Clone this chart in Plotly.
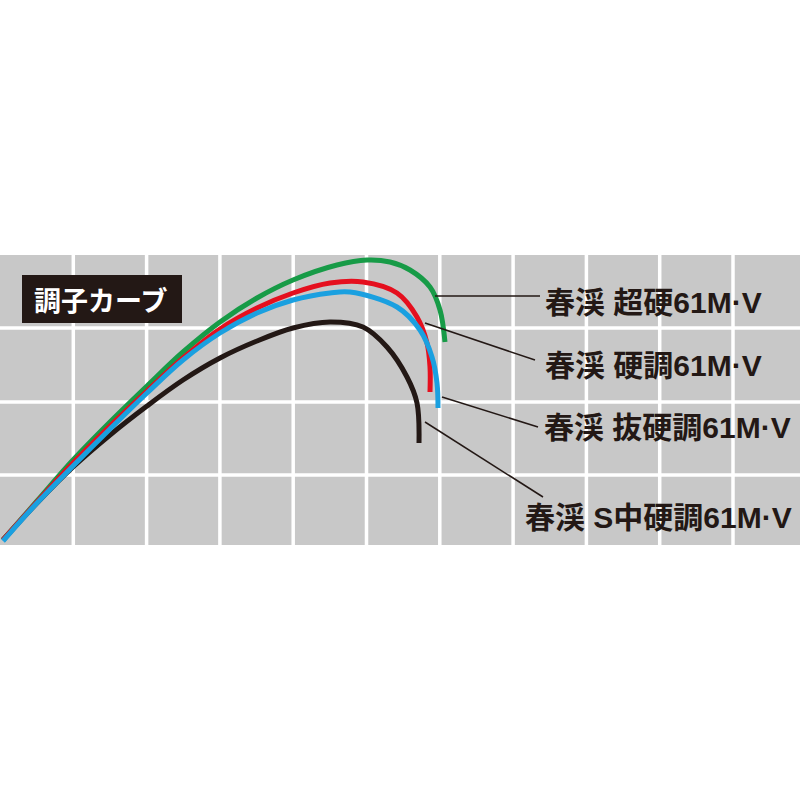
import plotly.graph_objects as go

# curve points (x px, y px from top)
green_x = [3, 37, 73, 110, 147, 183, 220, 257, 293, 337, 367, 390, 410, 430, 440, 445]
green_y = [540, 501, 460, 422, 386, 352, 322, 298, 280, 265, 260, 262, 270, 287, 310, 342]

red_x = [3, 37, 73, 110, 147, 183, 220, 257, 293, 330, 363, 397, 417, 427, 430, 430]
red_y = [540, 502, 463, 426, 391, 358, 329, 308, 293, 283, 282, 293, 317, 343, 367, 392]

blue_x = [3, 37, 73, 110, 147, 183, 220, 257, 293, 330, 350, 397, 420, 432, 437, 438]
blue_y = [541, 503, 466, 429, 393, 360, 333, 313, 300, 293, 292, 307, 330, 357, 383, 408]

black_x = [3, 37, 73, 110, 147, 183, 220, 257, 293, 330, 363, 387, 407, 417, 419]
black_y = [540, 503, 467, 435, 406, 380, 358, 341, 328, 322, 327, 347, 377, 403, 443]

names = ["春渓 超硬61M·V", "春渓 硬調61M·V", "春渓 抜硬調61M·V", "春渓 S中硬調61M·V"]
title = "調子カーブ"

DARK = "#231815"
FONT = "Liberation Sans, Noto Sans CJK JP"

fig = go.Figure()
for xs, ys, col in [(black_x, black_y, DARK), (green_x, green_y, "#179b47"),
                    (red_x, red_y, "#e50f1e"), (blue_x, blue_y, "#1aa0e0")]:
    fig.add_trace(go.Scatter(x=xs, y=ys, mode="lines",
                             line=dict(color=col, width=5, shape="spline", smoothing=1),
                             hoverinfo="skip", showlegend=False))

shapes = [dict(type="rect", x0=0, x1=800, y0=255, y1=545, fillcolor="#c8c8c8",
               line_width=0, layer="below")]
for k in range(1, 11):
    xv = 73.3 * k
    shapes.append(dict(type="line", x0=xv, x1=xv, y0=255, y1=545,
                       line=dict(color="white", width=3.5), layer="below"))
for yv in [328, 402, 475]:
    shapes.append(dict(type="line", x0=0, x1=800, y0=yv, y1=yv,
                       line=dict(color="white", width=3.5), layer="below"))
shapes.append(dict(type="rect", x0=22, x1=182, y0=275, y1=323, fillcolor=DARK,
                   line_width=0, layer="below"))

# leader lines from curve tips to labels
leaders = [(435, 296, 540, 296), (425, 323, 535, 360),
           (442, 397, 538, 427), (425, 422, 543, 497)]
for x0, y0, x1, y1 in leaders:
    shapes.append(dict(type="line", x0=x0, y0=y0, x1=x1, y1=y1,
                       line=dict(color=DARK, width=1.5)))

label_pos = [(543, 302), (543, 365), (542, 427), (523, 517)]
annotations = [dict(x=100, y=299, text="<b>" + title + "</b>", showarrow=False,
                    xanchor="center", yanchor="middle",
                    font=dict(family="Noto Sans CJK JP", size=27, color="white"))]
for (lx, ly), t in zip(label_pos, names):
    annotations.append(dict(x=lx, y=ly, text="<b>" + t + "</b>", showarrow=False,
                            xanchor="left", yanchor="middle",
                            font=dict(family=FONT, size=30, color=DARK)))

fig.update_layout(
    width=800, height=800,
    margin=dict(l=0, r=0, t=0, b=0, pad=0),
    paper_bgcolor="white", plot_bgcolor="white",
    xaxis=dict(range=[0, 800], visible=False, fixedrange=True),
    yaxis=dict(range=[800, 0], visible=False, fixedrange=True),
    shapes=shapes, annotations=annotations,
)

fig.write_html("out.html", config={"displayModeBar": False},
               post_script="document.body.style.margin='0';")
